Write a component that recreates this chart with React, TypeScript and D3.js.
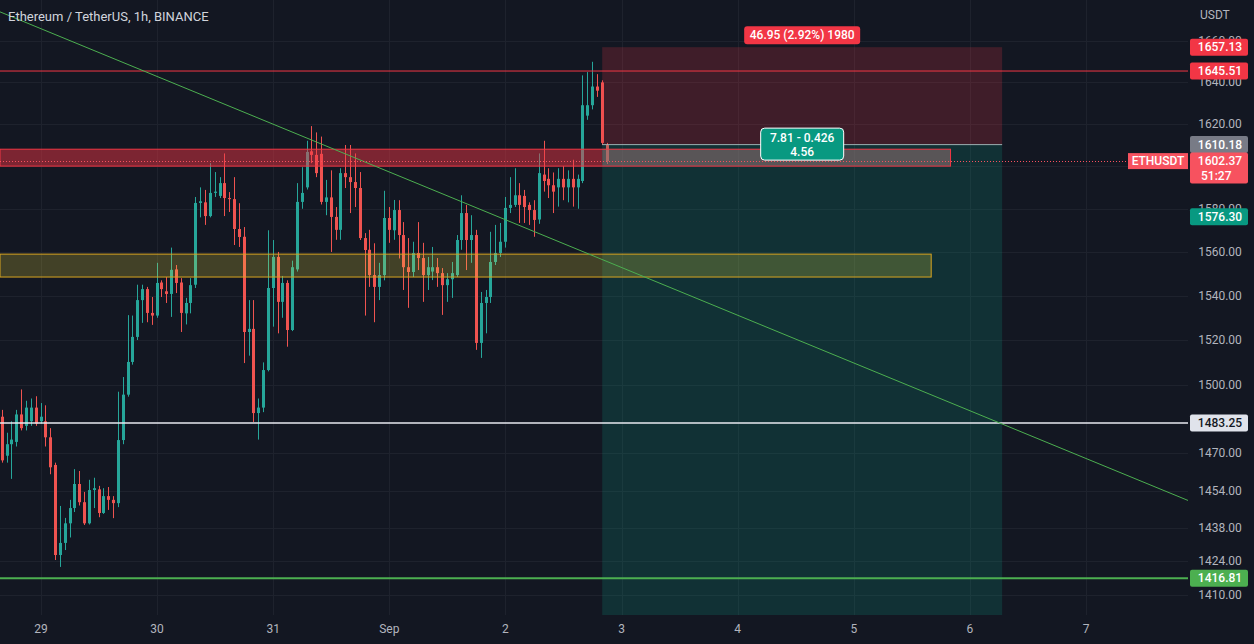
import React from 'react';
import * as d3 from 'd3';

const W = 1254;
const H = 644;
const PLOT_R = 1188;
const PLOT_B = 615;

// first candle: 2022-08-28 16:00 UTC, hourly
const FIRST_CANDLE = Date.UTC(2022, 7, 28, 16);
const HOUR = 3600000;

const opens = [
  1486, 1469, 1474, 1475, 1487, 1482, 1484, 1490, 1484, 1484, 1477, 1465, 1426.6, 1431.7, 1440, 1446.5, 1456.8, 1449, 1440, 1454.2,
  1454.5, 1444.4, 1451.6, 1450, 1448.6, 1475.8, 1495.7, 1510.2, 1521.4, 1538, 1543, 1532.2, 1531, 1546, 1542, 1540.8, 1552, 1546, 1532, 1536.7,
  1545, 1582.7, 1583, 1576.6, 1587.4, 1586, 1592, 1585, 1584.5, 1570.6, 1567, 1523.6, 1525, 1487.6, 1490, 1506.6, 1543.5, 1557.7, 1537.2, 1545.8,
  1524.5, 1552, 1583.2, 1590, 1607, 1605.3, 1605.8, 1583.2, 1585.3, 1576.2, 1570.2, 1596.7, 1594.8, 1592.5, 1589.7, 1566.4, 1561, 1549.4, 1544, 1549.4,
  1575.7, 1570, 1579.4, 1567.8, 1553, 1550.8, 1559.5, 1557.2, 1549.4, 1551, 1553, 1550.3, 1544.8, 1547.5, 1549.4, 1565.5, 1578, 1565.5, 1567.8, 1518.7,
  1536.7, 1539.4, 1555.4, 1559.5, 1564.7, 1580.4, 1581.8, 1586.3, 1586, 1581.8, 1579.4, 1575, 1596, 1594, 1591, 1590, 1594, 1590, 1594, 1590,
  1593, 1624, 1629, 1638, 1640, 1610,
];
const highs = [
  1489, 1479, 1484, 1489, 1498, 1493, 1494, 1495, 1492, 1491, 1481, 1466, 1447.4, 1442.3, 1450, 1463.2, 1462.4, 1453.4, 1458.6, 1459.5,
  1456, 1455, 1455.5, 1451.6, 1497, 1503.5, 1531.2, 1531, 1545, 1545, 1544, 1539.4, 1555, 1547, 1548.5, 1562, 1554, 1548, 1539, 1548,
  1585.5, 1590, 1588.8, 1601.4, 1597.2, 1594.8, 1606, 1587.8, 1594.8, 1582.6, 1571.5, 1538, 1538, 1494, 1510, 1570, 1565.5, 1560, 1549, 1547,
  1556, 1592, 1599.5, 1612, 1619, 1616, 1614, 1593.5, 1598, 1580.8, 1599, 1610, 1610, 1606, 1597.2, 1568.7, 1570.2, 1564, 1555, 1588.4,
  1580.8, 1584.1, 1584, 1573.8, 1566.4, 1564.7, 1573.8, 1564.2, 1557.7, 1562.3, 1557.2, 1552.6, 1550.3, 1555.4, 1567.8, 1586.3, 1581.8, 1577, 1570.2, 1541.7,
  1542.6, 1569.3, 1572.5, 1573.4, 1585.5, 1594.8, 1599, 1592, 1588.8, 1583, 1584, 1606, 1612, 1599, 1597, 1599, 1600, 1598, 1603, 1596,
  1643.4, 1645, 1650, 1644, 1641, 1611,
];
const lows = [
  1466, 1466, 1459, 1473, 1480, 1480, 1482, 1482, 1483, 1473, 1461, 1424.5, 1421.6, 1428.7, 1434, 1444.8, 1447.6, 1439.3, 1439.5, 1446.5,
  1442.6, 1444, 1445.7, 1442.2, 1446.9, 1474, 1494.8, 1509, 1520, 1527.7, 1528, 1526.8, 1530, 1539.4, 1536.7, 1530.4, 1541.2, 1523.6, 1527, 1532,
  1543.5, 1576, 1572.5, 1576, 1585.5, 1585, 1576.6, 1578.5, 1563.2, 1562.3, 1509.7, 1513, 1483.7, 1476, 1488, 1506, 1526, 1523, 1530, 1517,
  1524, 1551, 1580, 1589, 1601.4, 1594.8, 1582, 1577, 1560, 1565.6, 1565.6, 1589.7, 1578, 1580.8, 1565.5, 1531, 1544, 1528, 1538, 1547,
  1564.2, 1565.6, 1557, 1542.6, 1534.5, 1548.5, 1551.7, 1537.2, 1542.6, 1547.1, 1544, 1531.3, 1537.2, 1539, 1548.5, 1561, 1551.7, 1555, 1515.6, 1512,
  1523, 1536.7, 1554, 1557.7, 1562, 1578, 1580.8, 1573.4, 1573.4, 1572.5, 1567, 1573, 1588, 1585, 1578, 1581, 1584, 1583, 1581, 1580,
  1592, 1622, 1627, 1633, 1610, 1601,
];
const closes = [
  1467, 1474, 1476, 1487, 1481, 1490, 1490, 1483, 1486, 1477, 1464, 1426.6, 1431.7, 1440, 1446.5, 1456.8, 1449, 1440, 1454.2, 1455,
  1444.4, 1451.6, 1450, 1448.6, 1475.8, 1495.7, 1510.2, 1521.4, 1538, 1543, 1532.2, 1531, 1545.8, 1543, 1540.8, 1551.8, 1545.8, 1532.2, 1536.7, 1544.8,
  1582.7, 1583.5, 1576.6, 1587.4, 1588, 1592, 1585, 1584.5, 1570.6, 1566.9, 1523.6, 1525, 1487.6, 1490, 1506.6, 1543.5, 1557.7, 1537.2, 1545.8, 1524.5,
  1553, 1583.2, 1587.4, 1606.7, 1605.3, 1596.7, 1583.2, 1585.3, 1576.2, 1570.2, 1596.7, 1594.8, 1592.5, 1589.7, 1566.4, 1560.9, 1549.4, 1544, 1549.4, 1575.7,
  1570.2, 1579.4, 1567.8, 1553, 1550.8, 1559.5, 1557.2, 1549.4, 1553, 1553, 1550.3, 1544.8, 1547.5, 1550.3, 1565.5, 1578, 1565.5, 1567.8, 1518.7, 1536.7,
  1539.4, 1555.4, 1559.5, 1564.7, 1580.4, 1581.8, 1586.3, 1581.8, 1580.8, 1579.4, 1574.8, 1596.7, 1593, 1591, 1588, 1594, 1590, 1594, 1590, 1594,
  1629, 1629, 1638, 1636, 1611, 1602.37,
];

const dayLabels = ['29', '30', '31', 'Sep', '2', '3', '4', '5', '6', '7'];
const dayDates = [
  Date.UTC(2022, 7, 29), Date.UTC(2022, 7, 30), Date.UTC(2022, 7, 31), Date.UTC(2022, 8, 1), Date.UTC(2022, 8, 2),
  Date.UTC(2022, 8, 3), Date.UTC(2022, 8, 4), Date.UTC(2022, 8, 5), Date.UTC(2022, 8, 6), Date.UTC(2022, 8, 7),
];
const priceTicks = [1660, 1640, 1620, 1600, 1580, 1560, 1540, 1520, 1500, 1470, 1454, 1438, 1424, 1410];
// tick labels fully covered by price labels in the reference
const hiddenTickLabels = [1600];

// drawings
const resistanceZone = [1608, 1600];
const resistanceEnd = Date.UTC(2022, 8, 5, 20);
const supportZone = [1559, 1548.5];
const supportEnd = Date.UTC(2022, 8, 5, 16);
const trendStart = { t: Date.UTC(2022, 7, 28, 15, 30), p: 1674.5 };
const trendEnd = { t: Date.UTC(2022, 8, 7, 21, 30), p: 1449.4 };
const redLevel = 1645.51;
const whiteLevel = 1483.25;
const greenLevel = 1416.81;
const lastPrice = 1602.37;
const countdown = '51:27';
const posStart = Date.UTC(2022, 8, 2, 20);
const posEnd = Date.UTC(2022, 8, 6, 6, 40);
const posEntry = 1610.18;
const posStop = 1657.13;
const posRR = 4.56;
const posTopText = '46.95 (2.92%) 1980';
const posMidText = ['7.81 - 0.426', '4.56'];
const targetLabel = 1576.3;

const FONT = 'Roboto, "Liberation Sans", sans-serif';
const UP = '#26a69a';
const DOWN = '#ef5350';

export default function App() {
  const x = d3.scaleUtc().domain([dayDates[0], dayDates[9]]).range([41, 1086]);
  const y = d3.scaleLog().domain([1410, 1620]).range([594.7, 124]);
  const fmt = d3.format('.2f');

  const candles = opens.map((o, i) => {
    const t = FIRST_CANDLE + i * HOUR;
    const cx = x(t);
    const c = closes[i];
    const up = c >= o;
    const top = y(Math.max(o, c));
    const bot = y(Math.min(o, c));
    const bx = Math.round(cx - 1.5);
    return (
      <g key={i}>
        <line x1={bx + 1.5} x2={bx + 1.5} y1={y(highs[i])} y2={y(lows[i])} stroke={up ? UP : DOWN} strokeWidth={1} />
        <rect x={bx} y={top} width={3} height={Math.max(1, bot - top)} fill={up ? UP : DOWN} />
      </g>
    );
  });

  const target = posEntry - (posStop - posEntry) * posRR;
  const px0 = x(posStart);
  const px1 = x(posEnd);
  const pcx = (px0 + px1) / 2;

  const axisLabel = (p: number, bg: string, fg: string, key: string, extra?: string) => {
    const yy = y(p);
    const h = extra ? 31 : 17;
    return (
      <g key={key}>
        <rect x={1190} y={yy - 8.5} width={58} height={h} rx={2} fill={bg} />
        <text x={1220} y={yy + 4} textAnchor="middle" fontSize={12} fontWeight={500} fill={fg} fontFamily={FONT}>{fmt(p)}</text>
        {extra && (
          <text x={1201} y={yy + 18.5} fontSize={12} fontWeight={500} fill={fg} fontFamily={FONT}>{extra}</text>
        )}
      </g>
    );
  };

  return (
    <svg width={W} height={H} style={{ position: 'absolute', left: 0, top: 0, display: 'block' }}>
      <defs>
        <clipPath id="plot">
          <rect x={0} y={0} width={PLOT_R} height={PLOT_B} />
        </clipPath>
      </defs>
      <rect x={0} y={0} width={W} height={H} fill="#131722" />

      {/* grid */}
      <g>
        {dayDates.map((d, i) => (
          <line key={'vg' + i} x1={Math.round(x(d)) + 0.5} x2={Math.round(x(d)) + 0.5} y1={0} y2={PLOT_B} stroke="#1e222d" strokeWidth={1} />
        ))}
        {priceTicks.map((p) => (
          <line key={'hg' + p} x1={0} x2={PLOT_R} y1={Math.round(y(p)) + 0.5} y2={Math.round(y(p)) + 0.5} stroke="#1e222d" strokeWidth={1} />
        ))}
      </g>

      <g clipPath="url(#plot)">
        {candles}

        {/* position tool */}
        <rect x={px0} y={y(posStop)} width={px1 - px0} height={y(posEntry) - y(posStop)} fill="rgba(242,54,69,0.2)" />
        <rect x={px0} y={y(posEntry)} width={px1 - px0} height={y(target) - y(posEntry)} fill="rgba(8,153,129,0.2)" />

        {/* resistance zone */}
        <rect x={0} y={y(resistanceZone[0])} width={px0} height={y(resistanceZone[1]) - y(resistanceZone[0])} fill="rgba(242,54,69,0.47)" />
        <rect x={px0} y={y(resistanceZone[0])} width={x(resistanceEnd) - px0} height={y(resistanceZone[1]) - y(resistanceZone[0])} fill="rgba(150,115,115,0.55)" />
        <rect x={0} y={y(resistanceZone[0])} width={x(resistanceEnd)} height={y(resistanceZone[1]) - y(resistanceZone[0])} fill="none" stroke="#f23645" strokeWidth={1} />

        {/* support zone */}
        <rect x={0} y={y(supportZone[0])} width={x(supportEnd)} height={y(supportZone[1]) - y(supportZone[0])} fill="rgba(255,235,59,0.2)" stroke="#d9a520" strokeWidth={1} />

        <line x1={px0} x2={px1} y1={y(posEntry)} y2={y(posEntry)} stroke="rgba(170,190,192,0.9)" strokeWidth={1} />

        {/* horizontal levels */}
        <line x1={0} x2={PLOT_R} y1={y(redLevel)} y2={y(redLevel)} stroke="#f23645" strokeWidth={1} />
        <line x1={0} x2={PLOT_R} y1={y(whiteLevel)} y2={y(whiteLevel)} stroke="#e8eaf0" strokeWidth={1.4} />
        <line x1={0} x2={PLOT_R} y1={y(greenLevel)} y2={y(greenLevel)} stroke="#4caf50" strokeWidth={2} />

        {/* trend line */}
        <line x1={x(trendStart.t)} y1={y(trendStart.p)} x2={x(trendEnd.t)} y2={y(trendEnd.p)} stroke="#4caf50" strokeWidth={1} />

        {/* last price dotted line */}
        <line x1={0} x2={1128} y1={Math.round(y(lastPrice)) + 0.5} y2={Math.round(y(lastPrice)) + 0.5} stroke="#f7525f" strokeWidth={1} strokeDasharray="1 2" />
      </g>

      {/* position labels */}
      <g fontFamily={FONT}>
        <rect x={pcx - 58} y={y(posStop) - 21} width={116} height={18} rx={3} fill="#f23645" />
        <text x={pcx} y={y(posStop) - 8} textAnchor="middle" fontSize={12} fontWeight={500} fill="#ffffff">{posTopText}</text>
        <rect x={pcx - 41.5} y={y(posEntry) - 16.5} width={83} height={32} rx={4} fill="#089981" stroke="#ffffff" strokeWidth={1} />
        <text x={pcx} y={y(posEntry) - 3} textAnchor="middle" fontSize={12} fontWeight={500} fill="#ffffff">{posMidText[0]}</text>
        <text x={pcx} y={y(posEntry) + 11} textAnchor="middle" fontSize={12} fontWeight={500} fill="#ffffff">{posMidText[1]}</text>
      </g>

      {/* title */}
      <text x={8} y={21} fontSize={13} fill="#d1d4dc" fontFamily={FONT}>Ethereum / TetherUS, 1h, BINANCE</text>

      {/* x axis */}
      <g fontFamily={FONT} fontSize={12} fill="#b2b5be">
        {dayDates.map((d, i) => (
          <text key={'xl' + i} x={x(d)} y={633} textAnchor="middle">{dayLabels[i]}</text>
        ))}
      </g>

      {/* y axis */}
      <g fontFamily={FONT} fontSize={12} fill="#b2b5be">
        <text x={1200} y={19}>USDT</text>
        {priceTicks.filter((p) => !hiddenTickLabels.includes(p)).map((p) => (
          <text key={'yl' + p} x={1220} y={y(p) + 4} textAnchor="middle">{fmt(p)}</text>
        ))}
      </g>

      {/* price labels */}
      {axisLabel(posStop, '#f23645', '#ffffff', 'stop')}
      {axisLabel(redLevel, '#f23645', '#ffffff', 'red')}
      {axisLabel(posEntry, '#787b86', '#ffffff', 'entry')}
      {axisLabel(targetLabel, '#089981', '#ffffff', 'tgt')}
      {axisLabel(whiteLevel, '#e0e3eb', '#131722', 'white')}
      {axisLabel(greenLevel, '#4caf50', '#ffffff', 'green')}
      {axisLabel(lastPrice, '#f7525f', '#ffffff', 'last', countdown)}

      <g fontFamily={FONT}>
        <rect x={1128} y={y(lastPrice) - 8} width={60} height={16} fill="#f7525f" />
        <text x={1158} y={y(lastPrice) + 4} textAnchor="middle" fontSize={12} fontWeight={500} fill="#ffffff">ETHUSDT</text>
      </g>
    </svg>
  );
}
